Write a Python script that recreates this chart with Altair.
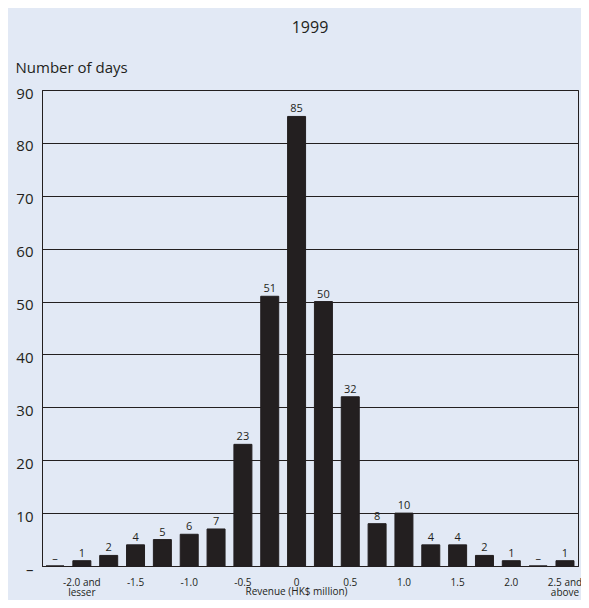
import altair as alt
import pandas as pd

bins = list(range(20))
days = [0, 1, 2, 4, 5, 6, 7, 23, 51, 85, 50, 32, 8, 10, 4, 4, 2, 1, 0, 1]
x_labels = ["", ["-2.0 and", "lesser"], "", "-1.5", "", "-1.0", "", "-0.5", "", "0",
            "", "0.5", "", "1.0", "", "1.5", "", "2.0", "", ["2.5 and", "above"]]
y_ticks = list(range(0, 91, 10))

df = pd.DataFrame({"bin": bins, "days": days})
df["label"] = ["\u2013" if d == 0 else str(d) for d in days]


def js(v):
    if isinstance(v, list):
        return "[" + ",".join(js(i) for i in v) + "]"
    return "'" + v + "'"


label_expr = js(x_labels) + "[datum.value]"

INK = "#231f20"
BG = "#e2e9f5"
FONT = "Open Sans"

x = alt.X(
    "bin:O",
    scale=alt.Scale(paddingInner=0.33, paddingOuter=0.15),
    axis=alt.Axis(
        title="Revenue (HK$ million)",
        labelExpr=label_expr,
        labelAngle=0,
        ticks=False,
        domainColor=INK,
        labelFontSize=10,
        labelPadding=11,
        labelLineHeight=10,
        labelColor=INK,
        titleFontSize=10,
        titleFontWeight="normal",
        titleColor=INK,
        titleX=254,
        titleY=28,
        titleBaseline="alphabetic",
    ),
)

y = alt.Y(
    "days:Q",
    scale=alt.Scale(domain=[0, 90], nice=False),
    axis=alt.Axis(
        values=y_ticks,
        title="Number of days",
        titleAngle=0,
        titleAlign="left",
        titleBaseline="alphabetic",
        titleX=-27,
        titleY=-18,
        titleFontSize=15,
        titleFontWeight="normal",
        titleColor=INK,
        labelExpr="datum.value == 0 ? '\u2013' : datum.label",
        labelFontSize=15,
        labelPadding=9,
        labelOffset=3,
        labelColor=INK,
        ticks=False,
        grid=True,
        gridColor=INK,
        gridOpacity=1,
        domainColor=INK,
    ),
)

base = alt.Chart(df).encode(x=x, y=y)

bars = base.mark_bar(color=INK, stroke=INK, strokeWidth=1)
text = base.mark_text(baseline="bottom", dy=-2, fontSize=11, color=INK, font=FONT).encode(
    text="label:N"
)

chart = (
    alt.layer(bars, text)
    .properties(
        width=536,
        height=476,
        autosize=alt.AutoSizeParams(type="none"),
        padding={"left": 34, "top": 82, "right": 3, "bottom": 34},
        background=BG,
        title=alt.Title("1999", fontSize=16, fontWeight="normal", color=INK,
                        anchor="middle", offset=24, font=FONT),
    )
    .configure(font=FONT)
    .configure_view(stroke=INK, strokeWidth=1)
    .configure_axis(labelFont=FONT, titleFont=FONT)
)

chart.save("out.html", embed_options={"renderer": "svg", "actions": False})
